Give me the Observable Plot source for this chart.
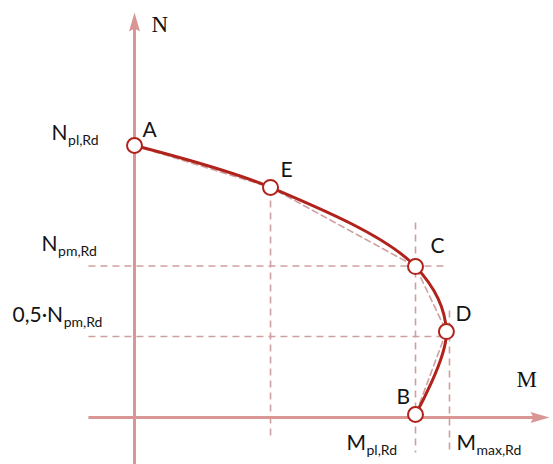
<!DOCTYPE html>
<html>
<head>
<meta charset="utf-8">
<script src="https://cdn.jsdelivr.net/npm/d3@7"></script>
<script src="https://cdn.jsdelivr.net/npm/@observablehq/plot@0.6"></script>
<style>
  body { margin: 0; background: #fff; }
  svg { display: block; }
</style>
</head>
<body>
<div id="chart"></div>
<script>
// N–M interaction diagram; M is given relative to M_pl,Rd, N relative to N_pl,Rd.
const pointNames = ["A", "E", "C", "D", "B"];
const pointM = [0, 0.484, 1.0, 1.110, 1.0];
const pointN = [1.0, 0.846, 0.555, 0.316, 0.011];

// Horizontal guide levels
const levelMain = ["N", "0,5·N"];
const levelSub = ["pm,Rd", "pm,Rd"];
const levelN = [0.557, 0.298];
const levelEndM = [1.10, 1.12];

// Vertical guide lines (through E, at M_pl,Rd and at M_max,Rd)
const momentM = [0.484, 1.0, 1.121];
const momentTopN = [0.842, 0.717, 0.393];
const momentBottomN = [-0.074, -0.129, -0.129];
const guideStartM = -0.164;

// Axis extents
const axisM = [-0.164, 1.4235];
const axisN = [-0.18, 1.434];

const curveColor = "#b0231c";
const axisColor = "#d99694";
const guideColor = "#cfa0a0";
const textColor = "#141414";
const sans = "Lato, 'Open Sans', sans-serif";
const serif = "'Liberation Serif', 'DejaVu Serif', serif";
const mainSize = 21;
const subSize = 14;

const points = pointNames.map((name, i) => ({name, M: pointM[i], N: pointN[i]}));
const hGuides = levelN.map((n, i) => ({M1: guideStartM, M2: levelEndM[i], N: n}));
const vGuides = momentM.map((m, i) => ({M: m, N1: momentTopN[i], N2: momentBottomN[i]}));
const axes = [
  {M1: axisM[0], N1: 0, M2: axisM[1], N2: 0, rot: 90},
  {M1: 0, N1: axisN[0], M2: 0, N2: axisN[1], rot: 0}
];

// Slim filled arrowhead, tip pointing up; rotated per axis
const arrowHead = {
  draw(ctx) {
    ctx.moveTo(0, -15);
    ctx.lineTo(5.5, 4);
    ctx.lineTo(0, 1);
    ctx.lineTo(-5.5, 4);
    ctx.closePath();
  }
};

const measureCtx = document.createElement("canvas").getContext("2d");
function textWidth(s, size) {
  measureCtx.font = `${size}px Lato`;
  return measureCtx.measureText(s).width;
}

// A symbol with a subscript, e.g. N with "pl,Rd"
function subscripted(anchor, main, sub, dx, dy) {
  const w = textWidth(main, mainSize);
  const common = {x: "M", y: "N", textAnchor: "start", lineAnchor: "bottom", fill: textColor, fontFamily: sans};
  return [
    Plot.text([anchor], {...common, text: () => main, dx, dy, fontSize: mainSize}),
    Plot.text([anchor], {...common, text: () => sub, dx: dx + w + 0.5, dy: dy + 5, fontSize: subSize})
  ];
}

// Offsets of the point letters from their points
const letterOffsets = {A: [8, -9], E: [10, -10], C: [15, -14], D: [9, -11], B: [-19, -11]};
const levelOffsets = [[-93, -14.5], [-122, -14]];

const chart = Plot.plot({
  width: 553,
  height: 464,
  margin: 0,
  x: {domain: [-0.4769, 1.4911], range: [0, 553], axis: null},
  y: {domain: [-0.1728, 1.5331], range: [464, 0], axis: null},
  style: {background: "#fff", overflow: "visible"},
  marks: [
    // dashed guides
    Plot.link(hGuides, {x1: "M1", x2: "M2", y1: "N", y2: "N", stroke: guideColor, strokeWidth: 1.6, strokeDasharray: "7,5"}),
    Plot.link(vGuides, {x1: "M", x2: "M", y1: "N1", y2: "N2", stroke: guideColor, strokeWidth: 1.6, strokeDasharray: "7,5"}),
    // axes with arrowheads
    Plot.link(axes, {x1: "M1", y1: "N1", x2: "M2", y2: "N2", stroke: axisColor, strokeWidth: 3}),
    Plot.dot(axes, {x: "M2", y: "N2", symbol: arrowHead, rotate: "rot", fill: axisColor, stroke: "none", r: 5}),
    // straight-segment approximation
    Plot.line(points, {x: "M", y: "N", stroke: guideColor, strokeWidth: 1.6, strokeDasharray: "6,4"}),
    // interaction curve
    Plot.line(points, {x: "M", y: "N", curve: "catmull-rom", stroke: curveColor, strokeWidth: 3, strokeLinecap: "round"}),
    Plot.dot(points, {x: "M", y: "N", r: 7.5, fill: "white", stroke: curveColor, strokeWidth: 2}),
    // point letters
    ...points.map(p => Plot.text([p], {
      x: "M", y: "N", text: "name", dx: letterOffsets[p.name][0], dy: letterOffsets[p.name][1],
      textAnchor: "start", lineAnchor: "bottom", fontSize: mainSize, fontFamily: sans, fill: textColor
    })),
    // axis names
    Plot.text([{M: 0, N: axisN[1]}], {x: "M", y: "N", text: () => "N", dx: 17, dy: 5, textAnchor: "start", lineAnchor: "bottom", fontSize: 23, fontFamily: serif, fill: "#111"}),
    Plot.text([{M: axisM[1], N: 0}], {x: "M", y: "N", text: () => "M", dx: -18, dy: -30, textAnchor: "start", lineAnchor: "bottom", fontSize: 23, fontFamily: serif, fill: "#111"}),
    // symbolic resistances
    ...subscripted({M: 0, N: pointN[0]}, "N", "pl,Rd", -83, -6),
    ...levelN.flatMap((n, i) => subscripted({M: 0, N: n}, levelMain[i], levelSub[i], levelOffsets[i][0], levelOffsets[i][1])),
    ...subscripted({M: momentM[1], N: 0}, "M", "pl,Rd", -69, 33),
    ...subscripted({M: momentM[2], N: 0}, "M", "max,Rd", 7, 33)
  ]
});

document.getElementById("chart").appendChild(chart);
</script>
</body>
</html>
